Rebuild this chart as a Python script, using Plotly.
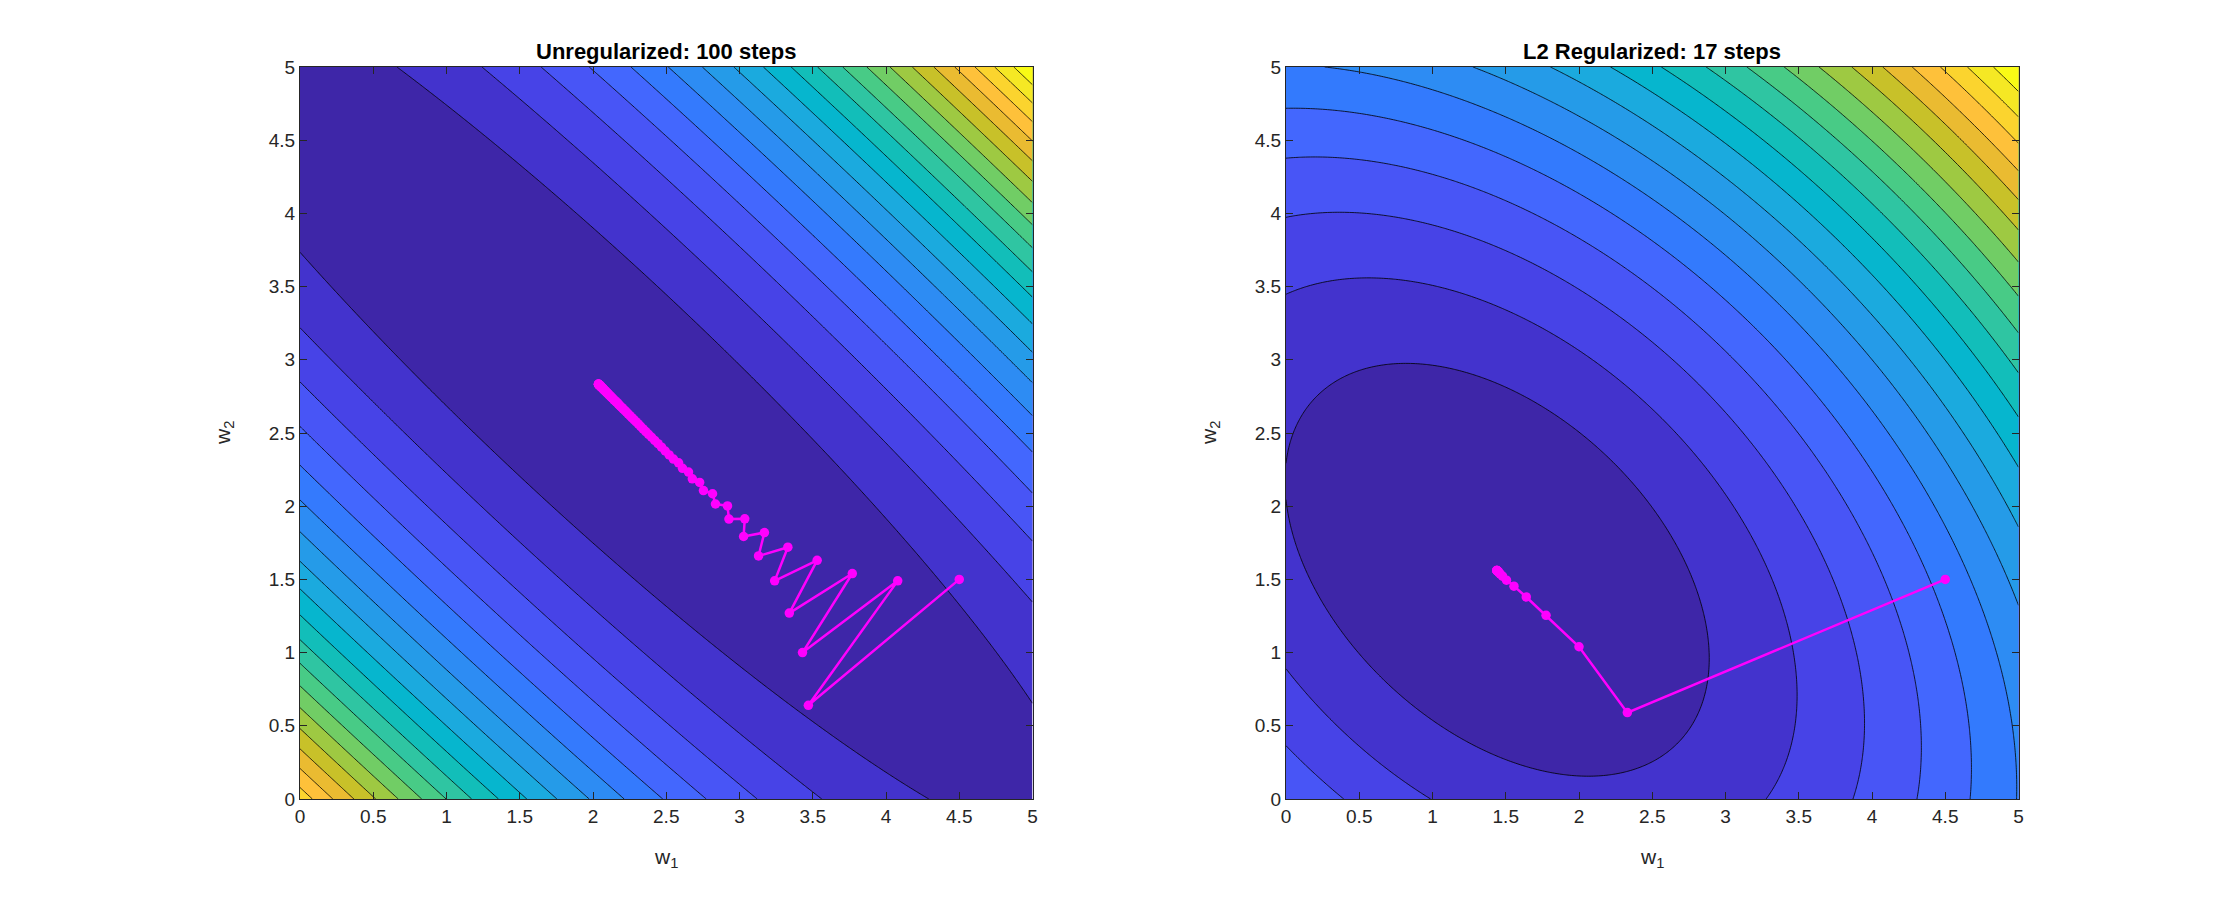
import numpy as np
import plotly.graph_objects as go

# ---------------- data ----------------
# Gradient-descent path, unregularized (101 iterates = 100 steps)
unreg_w1 = [4.500, 3.470, 4.080, 3.430, 3.770, 3.340, 3.530, 3.240, 3.330, 3.130,
            3.170, 3.028, 3.036, 2.928, 2.918, 2.836, 2.816, 2.754, 2.728, 2.678,
            2.652, 2.611, 2.584, 2.549, 2.520, 2.493, 2.468, 2.444, 2.421, 2.400,
            2.379, 2.360, 2.342, 2.325, 2.309, 2.293, 2.279, 2.265, 2.252, 2.240,
            2.229, 2.218, 2.207, 2.198, 2.188, 2.180, 2.172, 2.164, 2.156, 2.150,
            2.143, 2.137, 2.131, 2.125, 2.120, 2.115, 2.110, 2.106, 2.102, 2.098,
            2.094, 2.091, 2.087, 2.084, 2.081, 2.078, 2.076, 2.073, 2.071, 2.069,
            2.067, 2.065, 2.063, 2.061, 2.059, 2.058, 2.056, 2.055, 2.053, 2.052,
            2.051, 2.050, 2.049, 2.048, 2.047, 2.046, 2.045, 2.044, 2.043, 2.043,
            2.042, 2.041, 2.041, 2.040, 2.040, 2.039, 2.039, 2.038, 2.038, 2.037,
            2.037]
unreg_w2 = [1.500, 0.640, 1.490, 1.000, 1.540, 1.270, 1.630, 1.490, 1.720, 1.660,
            1.820, 1.793, 1.914, 1.912, 2.002, 2.015, 2.085, 2.107, 2.162, 2.187,
            2.233, 2.259, 2.296, 2.322, 2.350, 2.377, 2.403, 2.427, 2.449, 2.471,
            2.491, 2.510, 2.528, 2.546, 2.562, 2.577, 2.592, 2.605, 2.618, 2.630,
            2.642, 2.653, 2.663, 2.673, 2.682, 2.691, 2.699, 2.707, 2.714, 2.721,
            2.727, 2.734, 2.740, 2.745, 2.750, 2.755, 2.760, 2.764, 2.769, 2.772,
            2.776, 2.780, 2.783, 2.786, 2.789, 2.792, 2.795, 2.797, 2.799, 2.802,
            2.804, 2.806, 2.808, 2.810, 2.811, 2.813, 2.814, 2.816, 2.817, 2.818,
            2.819, 2.821, 2.822, 2.823, 2.824, 2.825, 2.826, 2.826, 2.827, 2.828,
            2.828, 2.829, 2.830, 2.830, 2.831, 2.831, 2.832, 2.832, 2.833, 2.833,
            2.834]

# Gradient-descent path, L2 regularized (18 iterates = 17 steps)
reg_w1 = [4.500, 2.330, 2.000, 1.775, 1.640, 1.556, 1.505, 1.478, 1.462, 1.453,
          1.448, 1.445, 1.443, 1.441, 1.440, 1.440, 1.439, 1.439]
reg_w2 = [1.500, 0.590, 1.040, 1.255, 1.380, 1.454, 1.495, 1.522, 1.538, 1.547,
          1.553, 1.556, 1.557, 1.559, 1.560, 1.560, 1.561, 1.561]

# Quadratic loss surface (shape estimated from the contour lines)
valley_center = [2.003, 2.822]      # minimum of the unregularized loss
steep_dir = [0.685, 0.7287]         # direction of high curvature
flat_dir = [0.7287, -0.685]         # valley direction
steep_curv = 2.045
flat_curv = 0.062
l2_weight = 1.25
n_levels = 20

titles = ["Unregularized: 100 steps", "L2 Regularized: 17 steps"]
tick_vals = [0, 0.5, 1, 1.5, 2, 2.5, 3, 3.5, 4, 4.5, 5]
tick_text = ["0", "0.5", "1", "1.5", "2", "2.5", "3", "3.5", "4", "4.5", "5"]

# MATLAB parula (64 entries)
PARULA = [
    (0.2422, 0.1504, 0.6603), (0.2504, 0.1650, 0.7076), (0.2578, 0.1818, 0.7511),
    (0.2647, 0.1978, 0.7952), (0.2706, 0.2147, 0.8364), (0.2751, 0.2342, 0.8710),
    (0.2783, 0.2559, 0.8991), (0.2803, 0.2782, 0.9221), (0.2813, 0.3006, 0.9414),
    (0.2810, 0.3228, 0.9579), (0.2795, 0.3447, 0.9717), (0.2760, 0.3667, 0.9829),
    (0.2699, 0.3892, 0.9906), (0.2602, 0.4123, 0.9952), (0.2440, 0.4358, 0.9988),
    (0.2206, 0.4603, 0.9973), (0.1963, 0.4847, 0.9892), (0.1834, 0.5074, 0.9798),
    (0.1786, 0.5289, 0.9682), (0.1764, 0.5499, 0.9520), (0.1687, 0.5703, 0.9359),
    (0.1540, 0.5902, 0.9218), (0.1460, 0.6091, 0.9079), (0.1380, 0.6276, 0.8973),
    (0.1248, 0.6459, 0.8883), (0.1113, 0.6635, 0.8763), (0.0952, 0.6798, 0.8598),
    (0.0689, 0.6948, 0.8394), (0.0297, 0.7082, 0.8163), (0.0036, 0.7203, 0.7917),
    (0.0067, 0.7312, 0.7660), (0.0433, 0.7411, 0.7394), (0.0964, 0.7500, 0.7120),
    (0.1408, 0.7584, 0.6842), (0.1717, 0.7670, 0.6554), (0.1938, 0.7758, 0.6251),
    (0.2161, 0.7843, 0.5923), (0.2470, 0.7918, 0.5567), (0.2906, 0.7973, 0.5188),
    (0.3406, 0.8008, 0.4789), (0.3909, 0.8029, 0.4354), (0.4456, 0.8024, 0.3909),
    (0.5044, 0.7993, 0.3480), (0.5616, 0.7942, 0.3045), (0.6174, 0.7876, 0.2612),
    (0.6720, 0.7793, 0.2227), (0.7242, 0.7698, 0.1910), (0.7738, 0.7598, 0.1646),
    (0.8203, 0.7498, 0.1535), (0.8634, 0.7406, 0.1596), (0.9035, 0.7330, 0.1774),
    (0.9393, 0.7288, 0.2100), (0.9728, 0.7298, 0.2394), (0.9956, 0.7434, 0.2371),
    (0.9970, 0.7659, 0.2199), (0.9952, 0.7893, 0.2028), (0.9892, 0.8136, 0.1885),
    (0.9786, 0.8386, 0.1766), (0.9676, 0.8639, 0.1643), (0.9610, 0.8890, 0.1537),
    (0.9597, 0.9135, 0.1423), (0.9628, 0.9373, 0.1265), (0.9691, 0.9606, 0.1064),
    (0.9769, 0.9839, 0.0805)]
parula_scale = [[i / (len(PARULA) - 1),
                 "rgb(%d,%d,%d)" % tuple(round(255 * c) for c in rgb)]
                for i, rgb in enumerate(PARULA)]

# ---------------- surfaces ----------------
grid = np.linspace(0, 5, 301)
W1, W2 = np.meshgrid(grid, grid)
dx = W1 - valley_center[0]
dy = W2 - valley_center[1]
pn = dx * steep_dir[0] + dy * steep_dir[1]
pv = dx * flat_dir[0] + dy * flat_dir[1]
loss = steep_curv * pn ** 2 + flat_curv * pv ** 2
loss_reg = loss + l2_weight * (W1 ** 2 + W2 ** 2)

FONT = "Liberation Sans, Arial, Helvetica, sans-serif"
INK = "#262626"

fig = go.Figure()


def add_panel(z, px, py, idx):
    zmin, zmax = float(z.min()), float(z.max())
    step = (zmax - zmin) / (n_levels + 1)
    xa = "x" if idx == 1 else "x%d" % idx
    ya = "y" if idx == 1 else "y%d" % idx
    fig.add_trace(go.Contour(
        x=grid, y=grid, z=z, xaxis=xa, yaxis=ya,
        autocontour=False,
        contours=dict(start=zmin + step, end=zmin + n_levels * step, size=step,
                      coloring="fill", showlines=True),
        line=dict(color="black", width=0.8, smoothing=1),
        colorscale=parula_scale, showscale=False, hoverinfo="skip"))
    fig.add_trace(go.Scatter(
        x=px, y=py, xaxis=xa, yaxis=ya, mode="lines+markers",
        line=dict(color="#FF00FF", width=2.5),
        marker=dict(color="#FF00FF", size=9.5),
        showlegend=False, hoverinfo="skip"))


add_panel(loss, unreg_w1, unreg_w2, 1)
add_panel(loss_reg, reg_w1, reg_w2, 2)

W, H = 2240, 898
x_doms = [[300 / W, 1032.5 / W], [1286 / W, 2018.5 / W]]
y_dom = [1 - 799 / H, 1 - 67 / H]

axis_common = dict(range=[0, 5], tickmode="array", tickvals=tick_vals, ticktext=tick_text,
                   ticks="inside", ticklen=7, tickwidth=1, tickcolor=INK,
                   showline=True, linecolor=INK, linewidth=1, mirror="ticks",
                   showgrid=False, zeroline=False, automargin=False,
                   tickfont=dict(family=FONT, size=19, color=INK))

layout = dict(width=W, height=H, autosize=False, paper_bgcolor="white", plot_bgcolor="white",
              margin=dict(l=0, r=0, t=0, b=0, pad=0), showlegend=False)
layout["xaxis"] = dict(axis_common, domain=x_doms[0], anchor="y")
layout["yaxis"] = dict(axis_common, domain=y_dom, anchor="x")
layout["xaxis2"] = dict(axis_common, domain=x_doms[1], anchor="y2")
layout["yaxis2"] = dict(axis_common, domain=y_dom, anchor="x2")
fig.update_layout(**layout)

ann = []
for i, dom in enumerate(x_doms):
    cx = (dom[0] + dom[1]) / 2
    ann.append(dict(text="<b>%s</b>" % titles[i], x=cx, y=1 - 52 / H, xref="paper", yref="paper",
                    xanchor="center", yanchor="middle", showarrow=False,
                    font=dict(family=FONT, size=22, color="black")))
    ann.append(dict(text="w<sub>1</sub>", x=cx, y=1 - 858 / H, xref="paper", yref="paper",
                    xanchor="center", yanchor="middle", showarrow=False,
                    font=dict(family=FONT, size=21, color=INK)))
    ann.append(dict(text="w<sub>2</sub>", x=(dom[0] * W - 76) / W, y=1 - 433 / H,
                    xref="paper", yref="paper", textangle=-90,
                    xanchor="center", yanchor="middle", showarrow=False,
                    font=dict(family=FONT, size=21, color=INK)))
fig.update_layout(annotations=ann)

fig.write_html("out.html",
               config={"responsive": False, "displayModeBar": False},
               default_width="2240px", default_height="898px",
               post_script="document.body.style.margin='0';"
                           "document.body.style.overflow='hidden';")
